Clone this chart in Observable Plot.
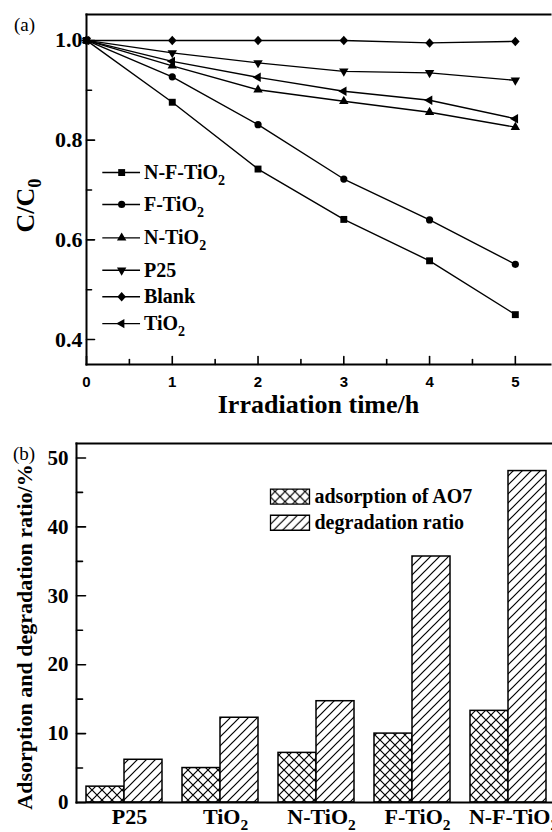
<!DOCTYPE html>
<html>
<head>
<meta charset="utf-8">
<script src="https://cdn.jsdelivr.net/npm/d3@7"></script>
<script src="https://cdn.jsdelivr.net/npm/@observablehq/plot@0.6"></script>
<style>
  html, body { margin: 0; padding: 0; background: #fff; overflow: hidden; }
  #fig { position: relative; width: 552px; height: 832px; overflow: hidden; background: #fff; }
  #fig .panel { position: absolute; left: 0; }
  #fig .tag { position: absolute; font-family: "Liberation Serif", "Times New Roman", serif; font-size: 19px; line-height: 1; }
</style>
</head>
<body>
<div id="fig">
  <div class="panel" id="panelA" style="top:0"></div>
  <div class="panel" id="panelB" style="top:400px"></div>
  <div class="tag" style="left:14px;top:15px">(a)</div>
  <div class="tag" style="left:13px;top:444px">(b)</div>
</div>
<script>
// ---- (a) photocatalytic degradation of AO7: C/C0 versus irradiation time ----
const hours = [0, 1, 2, 3, 4, 5];
const seriesNames = ["N-F-TiO₂", "F-TiO₂", "N-TiO₂", "P25", "Blank", "TiO₂"];
const cNFTiO2 = [1.0, 0.876, 0.742, 0.641, 0.558, 0.450];
const cFTiO2  = [1.0, 0.927, 0.831, 0.722, 0.640, 0.551];
const cNTiO2  = [1.0, 0.949, 0.901, 0.878, 0.856, 0.826];
const cP25    = [1.0, 0.975, 0.955, 0.938, 0.935, 0.920];
const cBlank  = [1.0, 1.0, 1.0, 1.0, 0.995, 0.998];
const cTiO2   = [1.0, 0.958, 0.926, 0.898, 0.880, 0.843];
const yTicksA = [0.4, 0.6, 0.8, 1.0];
const yMinorA = [0.5, 0.7, 0.9];
const xMinorA = [0.5, 1.5, 2.5, 3.5, 4.5];

// ---- (b) AO7 adsorption and degradation ratio per catalyst ----
const catalysts = ["P25", "TiO₂", "N-TiO₂", "F-TiO₂", "N-F-TiO₂"];
const adsorption = [2.3, 5.0, 7.2, 10.0, 13.3];
const degradation = [6.2, 12.3, 14.7, 35.7, 48.1];
const measures = ["adsorption of AO7", "degradation ratio"];
const yTicksB = [0, 10, 20, 30, 40, 50];
const yMinorB = [5, 15, 25, 35, 45];

const SERIF = '"Liberation Serif", "Times New Roman", serif';
const SANS = '"Liberation Sans", Arial, sans-serif';

// custom marker shapes
function triangle(angle) {
  return {draw(ctx, size) {
    const R = Math.sqrt(size / (3 * Math.sqrt(3) / 4));
    for (let k = 0; k < 3; k++) {
      const a = angle + k * 2 * Math.PI / 3;
      const px = R * Math.sin(a), py = -R * Math.cos(a);
      if (k) ctx.lineTo(px, py); else ctx.moveTo(px, py);
    }
    ctx.closePath();
  }};
}
const rhombus = {draw(ctx, size) {
  const h = Math.sqrt(size / 2) * 1.05, w = Math.sqrt(size / 2) * 0.95;
  ctx.moveTo(0, -h); ctx.lineTo(w, 0); ctx.lineTo(0, h); ctx.lineTo(-w, 0); ctx.closePath();
}};
const tickShape = {draw(ctx, l) { ctx.moveTo(0, 0); ctx.lineTo(0, -l); }};

const markerStyle = {
  "N-F-TiO₂": {symbol: "square", r: 3.9},
  "F-TiO₂": {symbol: "circle", r: 3.6},
  "N-TiO₂": {symbol: triangle(0), r: 3.5},
  "P25": {symbol: triangle(Math.PI), r: 3.5},
  "Blank": {symbol: rhombus, r: 3.6},
  "TiO₂": {symbol: triangle(-Math.PI / 2), r: 3.5}
};
// legend rows, in C/C0 units
const legendRowY = [0.735, 0.671, 0.604, 0.539, 0.486, 0.432];

const seriesValues = [cNFTiO2, cFTiO2, cNTiO2, cP25, cBlank, cTiO2];
const rowsA = seriesNames.flatMap((name, i) => hours.map((h, j) => ({name, hour: h, c: seriesValues[i][j]})));
const legendA = seriesNames.map((name, i) => ({name, y: legendRowY[i]}));

const txt = {fontFamily: SERIF, fontWeight: "bold"};

const chartA = Plot.plot({
  width: 552, height: 420,
  marginTop: 14, marginLeft: 86, marginRight: 2, marginBottom: 56,
  style: {background: "transparent", overflow: "visible", maxWidth: "none", color: "black"},
  x: {domain: [0, 5.41], axis: null},
  y: {domain: [0.35, 1.052], axis: null},
  marks: [
    Plot.frame({anchor: "top", strokeWidth: 2}),
    Plot.frame({anchor: "left", strokeWidth: 2}),
    Plot.frame({anchor: "bottom", strokeWidth: 2}),
    Plot.vector(yTicksA, {y: d => d, frameAnchor: "left", length: 8, rotate: 90, anchor: "start", shape: tickShape, stroke: "black", strokeWidth: 1.6}),
    Plot.vector(yMinorA, {y: d => d, frameAnchor: "left", length: 5, rotate: 90, anchor: "start", shape: tickShape, stroke: "black", strokeWidth: 1.6}),
    Plot.vector(hours, {x: d => d, frameAnchor: "bottom", length: 8, rotate: 0, anchor: "start", shape: tickShape, stroke: "black", strokeWidth: 1.6}),
    Plot.vector(xMinorA, {x: d => d, frameAnchor: "bottom", length: 5, rotate: 0, anchor: "start", shape: tickShape, stroke: "black", strokeWidth: 1.6}),
    Plot.text(yTicksA, {y: d => d, text: d3.format(".1f"), frameAnchor: "left", dx: -4, textAnchor: "end", lineAnchor: "middle", fontSize: 22, ...txt}),
    Plot.text(hours, {x: d => d, text: d3.format("d"), frameAnchor: "bottom", dy: 18, textAnchor: "middle", lineAnchor: "middle", fontSize: 15, fontFamily: SANS, fontWeight: "bold"}),
    Plot.text(["Irradiation time/h"], {frameAnchor: "bottom", dy: 40, textAnchor: "middle", lineAnchor: "middle", fontSize: 26, ...txt}),
    Plot.text(["C/C₀"], {frameAnchor: "left", dx: -61, dy: 16, rotate: -90, textAnchor: "middle", lineAnchor: "middle", fontSize: 26, ...txt}),
    Plot.line(rowsA, {x: "hour", y: "c", z: "name", stroke: "black", strokeWidth: 1.4}),
    ...seriesNames.map(name => Plot.dot(rowsA.filter(d => d.name === name), {x: "hour", y: "c", fill: "black", stroke: "none", ...markerStyle[name]})),
    Plot.ruleY(legendA, {y: "y", x1: () => 0.19, x2: () => 0.63, stroke: "black", strokeWidth: 1.4}),
    ...legendA.map(row => Plot.dot([row], {x: () => 0.41, y: "y", fill: "black", stroke: "none", ...markerStyle[row.name]})),
    Plot.text(legendA, {x: () => 0.67, y: "y", text: "name", textAnchor: "start", lineAnchor: "middle", fontSize: 20, ...txt})
  ]
});

const bars = catalysts.flatMap((catalyst, i) => [
  {catalyst, measure: measures[0], value: adsorption[i]},
  {catalyst, measure: measures[1], value: degradation[i]}
]);
const patternFill = {[measures[0]]: "url(#crossHatch)", [measures[1]]: "url(#diagHatch)"};
const legendRowB = [44.4, 40.6]; // legend rows, in percent units
const swatch = {draw(ctx) { ctx.rect(-19.5, -7.5, 39, 15); }};

// catalysts are contiguous facet columns; the gap between groups comes from the inner x padding
const chartB = Plot.plot({
  width: 560, height: 432,
  marginTop: 43, marginLeft: 74, marginRight: 2, marginBottom: 30,
  style: {background: "transparent", overflow: "visible", maxWidth: "none", color: "black"},
  fx: {domain: catalysts, padding: 0, label: null},
  x: {domain: measures, paddingInner: 0, paddingOuter: 0.233, axis: null},
  y: {domain: [0, 52.1], axis: null},
  marks: [
    ...measures.map(m => Plot.barY(bars.filter(d => d.measure === m), {fx: "catalyst", x: "measure", y: "value", fill: patternFill[m], stroke: "black", strokeWidth: 1.5, inset: 0})),
    Plot.frame({anchor: "top", strokeWidth: 2, facet: "super"}),
    Plot.frame({anchor: "left", strokeWidth: 2, facet: "super"}),
    Plot.frame({anchor: "bottom", strokeWidth: 2, facet: "super"}),
    Plot.vector(yTicksB, {y: d => d, frameAnchor: "left", length: 9, rotate: 90, anchor: "start", shape: tickShape, stroke: "black", strokeWidth: 1.6, facetAnchor: "left"}),
    Plot.vector(yMinorB, {y: d => d, frameAnchor: "left", length: 6, rotate: 90, anchor: "start", shape: tickShape, stroke: "black", strokeWidth: 1.6, facetAnchor: "left"}),
    Plot.text(yTicksB, {y: d => d, text: d => String(d), frameAnchor: "left", dx: -8, textAnchor: "end", lineAnchor: "middle", fontSize: 21, ...txt, facetAnchor: "left"}),
    Plot.text(["Adsorption and degradation ratio/%"], {frameAnchor: "left", dx: -52, dy: 14, rotate: -90, textAnchor: "middle", lineAnchor: "middle", fontSize: 22, ...txt, facet: "super"}),
    Plot.axisFx({anchor: "bottom", tickSize: 0, tickPadding: 6, dx: 5, label: null, fontSize: 22, ...txt}),
    ...measures.map((m, i) => Plot.dot([m], {y: () => legendRowB[i], frameAnchor: "left", dx: 213.5, symbol: swatch, fill: patternFill[m], stroke: "black", strokeWidth: 1.3, facetAnchor: "left"})),
    Plot.text(measures, {y: (d, i) => legendRowB[i], text: d => d, frameAnchor: "left", dx: 238, textAnchor: "start", lineAnchor: "middle", fontSize: 20, ...txt, facetAnchor: "left"})
  ]
});

// hatch patterns for the bars
const defs = d3.select(chartB).insert("defs", ":first-child");
const diag = defs.append("pattern").attr("id", "diagHatch").attr("patternUnits", "userSpaceOnUse").attr("width", 9).attr("height", 9);
diag.append("rect").attr("width", 9).attr("height", 9).attr("fill", "white");
diag.append("path").attr("d", "M-2,2L2,-2M0,9L9,0M7,11L11,7").attr("stroke", "black").attr("stroke-width", 1.2);
const cross = defs.append("pattern").attr("id", "crossHatch").attr("patternUnits", "userSpaceOnUse").attr("width", 10).attr("height", 10);
cross.append("rect").attr("width", 10).attr("height", 10).attr("fill", "white");
cross.append("path").attr("d", "M0,0L10,10M10,0L0,10").attr("stroke", "black").attr("stroke-width", 1.2);

// render subscript digits (₀–₉) as lowered, smaller tspans
function lowerSubscripts(root) {
  const ns = "http://www.w3.org/2000/svg";
  const walker = document.createTreeWalker(root, NodeFilter.SHOW_TEXT);
  const nodes = [];
  while (walker.nextNode()) if (/[₀-₉]/.test(walker.currentNode.nodeValue)) nodes.push(walker.currentNode);
  for (const node of nodes) {
    const frag = document.createDocumentFragment();
    for (const part of node.nodeValue.split(/([₀-₉]+)/)) {
      if (!part) continue;
      if (/[₀-₉]/.test(part)) {
        const t = document.createElementNS(ns, "tspan");
        t.setAttribute("font-size", "0.7em");
        t.setAttribute("baseline-shift", "-0.4em");
        t.textContent = part.replace(/[₀-₉]/g, c => String(c.charCodeAt(0) - 0x2080));
        frag.appendChild(t);
      } else {
        frag.appendChild(document.createTextNode(part));
      }
    }
    node.parentNode.replaceChild(frag, node);
  }
}
lowerSubscripts(chartA);
lowerSubscripts(chartB);

document.getElementById("panelA").appendChild(chartA);
document.getElementById("panelB").appendChild(chartB);
</script>
</body>
</html>
